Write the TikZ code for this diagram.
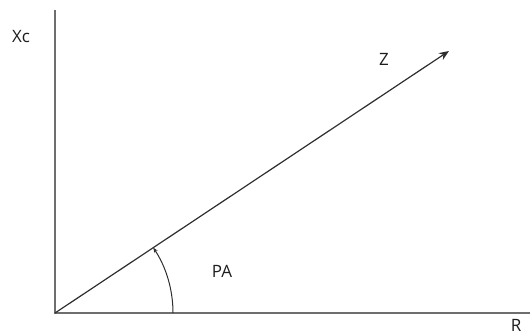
\documentclass[tikz,border=0pt]{standalone}
\usepackage{fontspec}
\setmainfont{Open Sans}
\usetikzlibrary{arrows.meta}
\definecolor{axisgray}{HTML}{6E6E6E}
\definecolor{vecgray}{HTML}{2E2E2E}
\definecolor{txt}{HTML}{1E1E1E}
\begin{document}
\begin{tikzpicture}[x=1pt,y=-1pt,
  axisline/.style={draw=axisgray,line width=1.4pt},
  vecline/.style={draw=vecgray,line width=1.2pt,-{Stealth[length=10pt,width=8pt]}},
  lbl/.style={text=txt,font=\fontsize{17}{20}\selectfont,inner sep=0pt}]
\useasboundingbox (0,0) rectangle (530,335);
\coordinate (O) at (55,313);
\coordinate (ytop) at (55,10);
\coordinate (xend) at (530,313);
\coordinate (tip) at (449,51);
\draw[axisline] (ytop) -- (O) -- (xend);
\draw[vecline] (O) -- (tip);
\draw[draw=vecgray,line width=1pt,-{Stealth[length=5pt,width=4pt]}]
  (173,313) arc[start angle=0,end angle=-33.6,radius=118];
\node[lbl] (xc) at (21,37) {Xc};
\node[lbl] (z) at (384,59) {Z};
\node[lbl] (pa) at (222,271) {PA};
\node[lbl] (r) at (516,325) {R};
\end{tikzpicture}
\end{document}
